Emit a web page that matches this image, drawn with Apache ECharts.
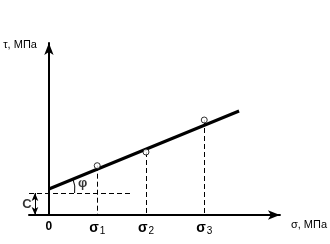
<!DOCTYPE html>
<html><head><meta charset="utf-8">
<script src="https://cdn.jsdelivr.net/npm/echarts@6/dist/echarts.min.js"></script>
<style>html,body{margin:0;padding:0;background:#fff}#c{width:330px;height:244px}</style>
</head><body><div id="c"></div>
<script>
// ---- data (abstract units) ----
const sigmaSub = ['1', '2', '3'];
const sigma = [4.85, 9.75, 15.6];
const tau = [4.93, 6.3, 9.5];
const envelopeX = [0, 19.1];
const envelopeY = [2.6, 10.4];
const cLevel = 2.2;
const dashEndX = 8.4;
const xName = 'σ, МПа';
const yName = 'τ, МПа';
const cLabel = 'C';
const phiLabel = 'φ';

const FONT = '"Liberation Sans", Arial, sans-serif';
const chart = echarts.init(document.getElementById('c'), null, {renderer: 'canvas'});

const points = sigma.map((s, i) => [s, tau[i]]);
const envelope = envelopeX.map((x, i) => [x, envelopeY[i]]);
const dashStyle = {color: '#000', width: 1, type: [5, 3]};

const markLines = sigma.map((s, i) => [
  {coord: [s, tau[i]], symbol: 'none'},
  {coord: [s, 0], symbol: 'none'}
]);
markLines.push([{coord: [-2, cLevel], symbol: 'none'}, {coord: [dashEndX, cLevel], symbol: 'none'}]);

const option = {
  animation: false,
  backgroundColor: '#fff',
  textStyle: {fontFamily: FONT, color: '#000'},
  grid: {left: 29, right: 49, top: 43, bottom: 29, containLabel: false},
  xAxis: {
    type: 'value', min: -2, max: 23.2,
    name: xName, nameLocation: 'end', nameGap: 11,
    nameTextStyle: {fontFamily: FONT, fontSize: 11, color: '#000', align: 'left', verticalAlign: 'top', padding: [4, 0, 0, 0]},
    axisLine: {show: true, onZero: true, symbol: ['none', 'arrow'], symbolSize: [7, 12], lineStyle: {color: '#000', width: 2}},
    axisTick: {show: false},
    splitLine: {show: false},
    axisLabel: {
      show: true, customValues: [0].concat(sigma), margin: 6,
      formatter: (v) => { const i = sigma.indexOf(v); return i < 0 ? '{z|0}' : '{s|σ}{sub|' + sigmaSub[i] + '}'; },
      rich: {
        z: {fontFamily: FONT, fontSize: 12, fontWeight: 'bold', color: '#000'},
        s: {fontFamily: FONT, fontSize: 14, fontWeight: 'bold', color: '#000'},
        sub: {fontFamily: FONT, fontSize: 10, color: '#000', verticalAlign: 'bottom', padding: [5, 0, 0, 1]}
      }
    }
  },
  yAxis: {
    type: 'value', min: 0, max: 17.2,
    name: yName, nameLocation: 'end', nameGap: -2,
    nameTextStyle: {fontFamily: FONT, fontSize: 11, color: '#000', align: 'right', verticalAlign: 'middle', padding: [0, 12, 0, 0]},
    axisLine: {show: true, onZero: true, symbol: ['none', 'arrow'], symbolSize: [7, 12], lineStyle: {color: '#000', width: 2}},
    axisTick: {show: false},
    splitLine: {show: false},
    axisLabel: {show: false}
  },
  series: [
    {
      type: 'line', data: envelope, symbol: 'none', z: 3,
      lineStyle: {color: '#000', width: 3}, silent: true
    },
    {
      type: 'scatter', data: points, symbol: 'circle', symbolSize: 6, z: 5,
      itemStyle: {color: '#fff', borderColor: '#000', borderWidth: 1}, silent: true,
      markLine: {silent: true, symbol: 'none', label: {show: false}, lineStyle: dashStyle, data: markLines, z: 2}
    },
    {
      type: 'line', data: [[-1.4, 0], [-1.4, cLevel]], symbol: 'none', lineStyle: {opacity: 0}, silent: true,
      markLine: {silent: true, symbol: ['arrow', 'arrow'], symbolSize: [5, 8], label: {show: false},
        lineStyle: {color: '#000', width: 1, type: 'solid'},
        data: [[{coord: [-1.4, 0]}, {coord: [-1.4, cLevel]}]]}
    },
    {
      type: 'custom', silent: true, z: 4,
      data: [[envelopeX[0], envelopeY[0]]],
      renderItem: function (params, api) {
        const p0 = api.coord([envelopeX[0], envelopeY[0]]);
        const p1 = api.coord([envelopeX[1], envelopeY[1]]);
        const pd = api.coord([0, cLevel]);
        const r = 26;
        const a1 = -Math.atan2(p0[1] - p1[1], p1[0] - p0[0]);
        const a2 = Math.asin(Math.min(1, (pd[1] - p0[1]) / r));
        return {type: 'arc', shape: {cx: p0[0], cy: p0[1], r: r, startAngle: a1, endAngle: a2, clockwise: true},
          style: {stroke: '#000', fill: null, lineWidth: 1}};
      }
    },
    {
      type: 'scatter', silent: true, symbolSize: 0, clip: false,
      data: [
        {value: [-2.2, 1.1], label: {formatter: cLabel, fontSize: 13}},
        {value: [3.4, 3.2], label: {formatter: phiLabel, fontSize: 13}}
      ],
      label: {show: true, position: 'inside', fontFamily: FONT, color: '#000', fontWeight: 'bold'}
    }
  ]
};
chart.setOption(option);
</script></body></html>
